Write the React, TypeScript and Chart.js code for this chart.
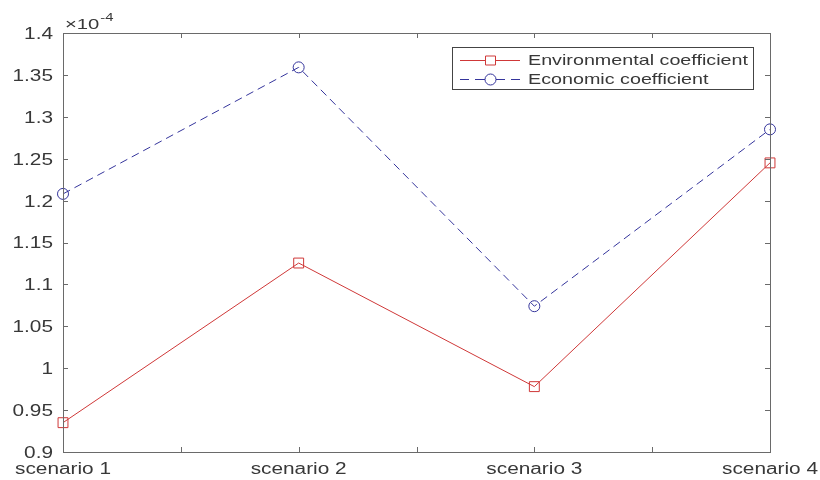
import React, { useEffect, useRef } from "react";
import { Chart, registerables } from "chart.js";

Chart.register(...registerables);

const SCENARIOS = ["scenario 1", "scenario 2", "scenario 3", "scenario 4"];
// values in units of 1e-4
const ENVIRONMENTAL = [0.935, 1.1255, 0.978, 1.245];
const ECONOMIC = [1.208, 1.359, 1.074, 1.285];
const Y_MIN = 0.9;
const Y_MAX = 1.4;
const Y_STEP = 0.05;
const EXPONENT = "-4";
const SERIES_NAMES = ["Environmental coefficient", "Economic coefficient"];

const RED = "#cf3838";
const BLUE = "#35359c";
const AXIS = "#6a6a6a";
const TEXT = "#383838";
const FONT = "Liberation Sans, Arial, sans-serif";
const TICK_SIZE = 16;
const TICK_STRETCH = 1.3;
const LEGEND_SIZE = 14.5;
const LEGEND_STRETCH = 1.36;

function drawText(
  ctx: CanvasRenderingContext2D,
  text: string,
  x: number,
  y: number,
  align: "left" | "center" | "right",
  size: number,
  sx: number
) {
  ctx.save();
  ctx.font = `${size}px ${FONT}`;
  ctx.textBaseline = "middle";
  ctx.textAlign = align;
  ctx.translate(x, y);
  ctx.scale(sx, 1);
  ctx.fillText(text, 0, 0);
  ctx.restore();
}

const fmt = (v: number) => String(Number(v.toFixed(2)));

const decorPlugin = {
  id: "decor",
  afterDraw(chart: any) {
    const { ctx, chartArea, scales } = chart;
    const { left, right, top, bottom } = chartArea;
    const x = scales.x;
    const y = scales.y;
    ctx.save();
    ctx.strokeStyle = AXIS;
    ctx.lineWidth = 1;
    ctx.setLineDash([]);
    ctx.strokeRect(left + 0.5, top + 0.5, right - left, bottom - top);
    const tl = 5;
    ctx.beginPath();
    const yVals: number[] = [];
    for (let i = 0; Y_MIN + i * Y_STEP <= Y_MAX + 1e-9; i++) {
      yVals.push(Number((Y_MIN + i * Y_STEP).toFixed(2)));
    }
    for (const v of yVals) {
      const py = Math.round(y.getPixelForValue(v)) + 0.5;
      ctx.moveTo(left, py);
      ctx.lineTo(left + tl, py);
      ctx.moveTo(right, py);
      ctx.lineTo(right - tl, py);
    }
    for (let i = 0; i < SCENARIOS.length; i++) {
      const vals = [i];
      if (i < SCENARIOS.length - 1) vals.push(i + 0.5);
      for (const v of vals) {
        const px = Math.round(x.getPixelForValue(v)) + 0.5;
        ctx.moveTo(px, bottom);
        ctx.lineTo(px, bottom - tl);
        ctx.moveTo(px, top);
        ctx.lineTo(px, top + tl);
      }
    }
    ctx.stroke();

    ctx.fillStyle = TEXT;
    for (const v of yVals) {
      const py = y.getPixelForValue(v) + 1.5;
      drawText(ctx, fmt(v), left - 10, py, "right", TICK_SIZE, TICK_STRETCH);
    }
    SCENARIOS.forEach((s, i) => {
      drawText(ctx, s, x.getPixelForValue(i), bottom + 18, "center", TICK_SIZE, TICK_STRETCH);
    });

    drawText(ctx, "\u00d710", left + 2, top - 8, "left", 15, 1.35);
    ctx.font = `15px ${FONT}`;
    const w = ctx.measureText("\u00d710").width * 1.35;
    drawText(ctx, EXPONENT, left + 3 + w, top - 15, "left", 11, 1.35);

    // legend
    const lx = 452, ly = 47, lw = 301, lh = 42;
    ctx.fillStyle = "#ffffff";
    ctx.fillRect(lx, ly, lw, lh);
    ctx.strokeStyle = "#444444";
    ctx.lineWidth = 1;
    ctx.strokeRect(lx + 0.5, ly + 0.5, lw, lh);
    const rows = [
      { y: 60, color: RED, dash: false, style: "rect", name: SERIES_NAMES[0] },
      { y: 79, color: BLUE, dash: true, style: "circle", name: SERIES_NAMES[1] },
    ];
    for (const r of rows) {
      ctx.strokeStyle = r.color;
      ctx.lineWidth = 1;
      ctx.beginPath();
      if (r.dash) {
        ctx.moveTo(460, r.y + 0.5);
        ctx.lineTo(469, r.y + 0.5);
        ctx.moveTo(475, r.y + 0.5);
        ctx.lineTo(505, r.y + 0.5);
        ctx.moveTo(511, r.y + 0.5);
        ctx.lineTo(520, r.y + 0.5);
      } else {
        ctx.moveTo(460, r.y + 0.5);
        ctx.lineTo(520, r.y + 0.5);
      }
      ctx.stroke();
      ctx.beginPath();
      if (r.style === "rect") {
        ctx.rect(485.5, r.y - 4, 10, 9);
      } else {
        ctx.arc(490.5, r.y + 0.5, 5.5, 0, Math.PI * 2);
      }
      ctx.fillStyle = "#ffffff";
      ctx.fill();
      ctx.stroke();
      ctx.fillStyle = TEXT;
      drawText(ctx, r.name, 528, r.y + 1, "left", LEGEND_SIZE, LEGEND_STRETCH);
    }
    ctx.restore();
  },
};

export default function App() {
  const ref = useRef<HTMLCanvasElement>(null);
  useEffect(() => {
    if (!ref.current) return;
    const chart = new Chart(ref.current, {
      type: "line",
      data: {
        labels: SCENARIOS,
        datasets: [
          {
            label: SERIES_NAMES[0],
            data: ENVIRONMENTAL,
            borderColor: RED,
            borderWidth: 1,
            pointStyle: "rect",
            pointRadius: 7,
            pointBorderColor: RED,
            pointBackgroundColor: "rgba(0,0,0,0)",
            pointBorderWidth: 1,
            fill: false,
            tension: 0,
            clip: false as any,
          },
          {
            label: SERIES_NAMES[1],
            data: ECONOMIC,
            borderColor: BLUE,
            borderWidth: 1,
            borderDash: [8, 5],
            pointStyle: "circle",
            pointRadius: 5.5,
            pointBorderColor: BLUE,
            pointBackgroundColor: "rgba(0,0,0,0)",
            pointBorderWidth: 1,
            fill: false,
            tension: 0,
            clip: false as any,
          },
        ],
      },
      options: {
        responsive: false,
        animation: false,
        layout: { padding: { top: 33, right: 50, left: 0, bottom: 0 } },
        plugins: { legend: { display: false }, tooltip: { enabled: false } },
        scales: {
          x: {
            type: "category",
            offset: false,
            grid: { display: false, drawTicks: false },
            border: { display: false },
            ticks: { display: false, autoSkip: false },
            afterFit(scale: any) {
              scale.height = 28;
              scale.paddingLeft = 0;
              scale.paddingRight = 0;
            },
          },
          y: {
            type: "linear",
            min: Y_MIN,
            max: Y_MAX,
            grid: { display: false, drawTicks: false },
            border: { display: false },
            ticks: { display: false },
            afterFit(scale: any) {
              scale.width = 63;
              scale.paddingTop = 0;
              scale.paddingBottom = 0;
            },
          },
        },
      },
      plugins: [decorPlugin],
    });
    return () => chart.destroy();
  }, []);
  return (
    <div style={{ position: "absolute", left: 0, top: 0, width: 820, height: 480, background: "#fff" }}>
      <canvas ref={ref} width={820} height={480} />
    </div>
  );
}
